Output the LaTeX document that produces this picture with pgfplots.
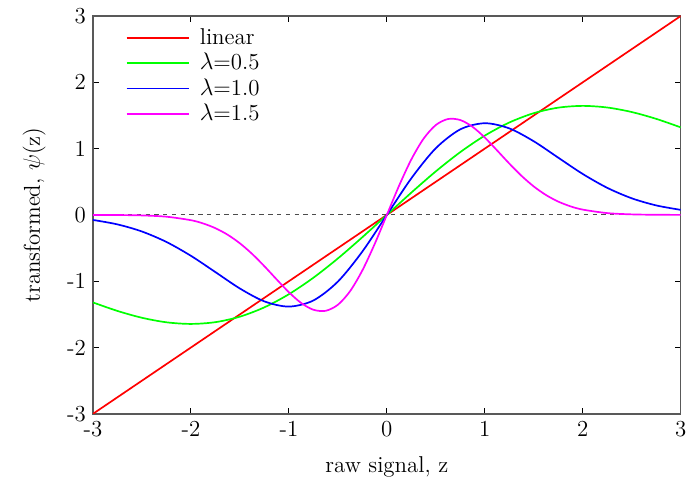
\documentclass[border=0pt]{standalone}
\usepackage{pgfplots}
\pgfplotsset{compat=1.18}
\definecolor{mgt}{RGB}{255,0,255}
\definecolor{grn}{RGB}{0,255,0}
\definecolor{blu}{RGB}{0,0,255}
\definecolor{rd}{RGB}{255,0,0}
\begin{document}
\begin{tikzpicture}
\begin{axis}[
  name=ax,
  scale only axis,
  width=294bp, height=199bp,
  xmin=-3, xmax=3, ymin=-3, ymax=3,
  xtick={-3,-2,-1,0,1,2,3},
  ytick={-3,-2,-1,0,1,2,3},
  tick align=inside,
  major tick length=3pt,
  font=\fontsize{11.5}{13}\selectfont,
  /pgf/number format/assume math mode=true,
  axis line style={draw=black!65, line width=0.7pt},
  tick style={black, line width=0.5pt},
  xlabel={raw signal, z},
  xlabel style={yshift=-3pt},
  ylabel={transformed, $\psi$(z)},
  ylabel style={yshift=4pt},
  legend style={draw=none, fill=none, at={(0.045,0.99)}, anchor=north west,
    row sep=-1pt, font=\fontsize{11.5}{13}\selectfont,
    nodes={inner xsep=5pt}},
  legend cell align=left,
  legend image code/.code={\draw[#1] (0cm,0cm) -- (1.1cm,0cm);},
  every axis plot/.append style={line width=0.85pt},
]
\addplot[draw=black!70, dash pattern=on 2.2pt off 2.2pt, line width=0.5pt, forget plot] coordinates {(-3,0) (3,0)};
\addplot[rd] coordinates {(-3,-3) (3,3)};
\addlegendentry{linear}
\addplot[grn, smooth] coordinates {
(-3,-1.32010) (-2.75,-1.44828) (-2.5,-1.55137) (-2.25,-1.61967) (-2,-1.64419)
(-1.75,-1.61753) (-1.5,-1.53467) (-1.25,-1.39365) (-1,-1.19614) (-0.75,-0.94753)
(-0.5,-0.65685) (-0.25,-0.33621) (0,0) (0.25,0.33621) (0.5,0.65685) (0.75,0.94753)
(1,1.19614) (1.25,1.39365) (1.5,1.53467) (1.75,1.61753) (2,1.64419) (2.25,1.61967)
(2.5,1.55137) (2.75,1.44828) (3,1.32010)};
\addlegendentry{$\lambda$=0.5}
\addplot[blu, smooth] coordinates {
(-3,-0.07597) (-2.75,-0.14289) (-2.5,-0.25039) (-2.25,-0.40805) (-2,-0.61700)
(-1.75,-0.86271) (-1.5,-1.11007) (-1.25,-1.30454) (-1,-1.38260) (-0.75,-1.29050)
(-0.5,-1.00583) (-0.25,-0.55234) (0,0) (0.25,0.55234) (0.5,1.00583) (0.75,1.29050)
(1,1.38260) (1.25,1.30454) (1.5,1.11007) (1.75,0.86271) (2,0.61700) (2.25,0.40805)
(2.5,0.25039) (2.75,0.14289) (3,0.07597)};
\addlegendentry{$\lambda$=1.0}
\addplot[mgt, smooth] coordinates {
(-3,-0.00043) (-2.75,-0.0020) (-2.5,-0.00794) (-2.25,-0.02717) (-2,-0.07980)
(-1.875,-0.12900) (-1.75,-0.20046) (-1.625,-0.29920) (-1.5,-0.42861) (-1.375,-0.58865)
(-1.25,-0.77406) (-1.125,-0.97289) (-1,-1.16598) (-0.875,-1.32803) (-0.75,-1.43057)
(-0.625,-1.44644) (-0.5,-1.35549) (-0.375,-1.14973) (-0.25,-0.83690) (-0.125,-0.44111)
(0,0)
(0.125,0.44111) (0.25,0.83690) (0.375,1.14973) (0.5,1.35549) (0.625,1.44644)
(0.75,1.43057) (0.875,1.32803) (1,1.16598) (1.125,0.97289) (1.25,0.77406)
(1.375,0.58865) (1.5,0.42861) (1.625,0.29920) (1.75,0.20046) (1.875,0.12900)
(2,0.07980) (2.25,0.02717) (2.5,0.00794) (2.75,0.0020) (3,0.00043)};
\addlegendentry{$\lambda$=1.5}
\end{axis}
\path ([xshift=-46.5bp,yshift=-38bp]ax.south west) rectangle ([xshift=6bp,yshift=8bp]ax.north east);
\end{tikzpicture}
\end{document}
